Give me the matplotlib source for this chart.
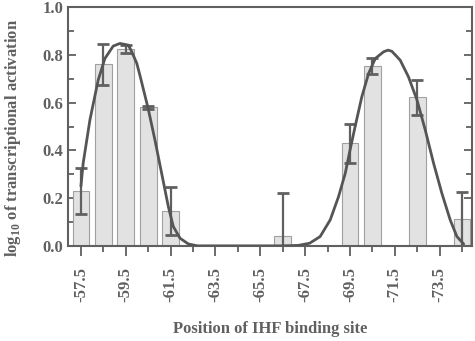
import numpy as np
import matplotlib
matplotlib.use("Agg")
import matplotlib.pyplot as plt
from matplotlib.ticker import MultipleLocator, FixedLocator

plt.rcParams['font.family'] = 'Liberation Serif'
plt.rcParams['font.weight'] = 'bold'
plt.rcParams['mathtext.fontset'] = 'custom'
plt.rcParams['mathtext.rm'] = 'Liberation Serif:bold'
plt.rcParams['axes.unicode_minus'] = False

# datos de las barras (posicion del sitio IHF)
pos = [-57.5, -58.5, -59.5, -60.5, -61.5, -66.5, -69.5, -70.5, -72.5, -74.5]
val = [0.23, 0.76, 0.825, 0.58, 0.145, 0.042, 0.43, 0.755, 0.622, 0.112]
err = [0.096, 0.085, 0.015, 0.005, 0.1, 0.18, 0.082, 0.033, 0.072, 0.115]

# curva de ajuste
curve_x = [-57.5, -57.6, -57.9, -58.27, -58.57, -58.94, -59.24, -59.61, -59.76,
           -59.99, -60.13, -60.5, -60.8, -61.1, -61.4, -61.62, -61.92, -62.29,
           -62.7, -63.5, -64.5, -65.5, -66.5, -67.2, -67.7, -68.17, -68.62,
           -68.99, -69.29, -69.5, -69.73, -70.03, -70.33, -70.63, -71.0, -71.2,
           -71.37, -71.74, -72.11, -72.49, -72.86, -73.23, -73.6, -73.97,
           -74.27, -74.57]
curve_y = [0.25, 0.346, 0.527, 0.695, 0.785, 0.837, 0.848, 0.841, 0.815,
           0.765, 0.715, 0.575, 0.444, 0.304, 0.164, 0.081, 0.032, 0.008,
           0.0, 0.0, 0.0, 0.0, 0.0, 0.002, 0.011, 0.039, 0.109,
           0.206, 0.304, 0.40, 0.5, 0.625, 0.722, 0.785, 0.813, 0.82,
           0.815, 0.778, 0.708, 0.611, 0.485, 0.346, 0.22, 0.109,
           0.039, 0.008]

xticks_major = [-57.5, -59.5, -61.5, -63.5, -65.5, -67.5, -69.5, -71.5, -73.5]
xticks_minor = [-58.5, -60.5, -62.5, -64.5, -66.5, -68.5, -70.5, -72.5, -74.5]

gray = '#606060'

fig = plt.figure(figsize=(4.75, 3.41), dpi=100)
ax = fig.add_axes([0.143, 0.279, 0.851, 0.700])

ax.bar(pos, val, width=0.75, color='#e2e2e2', edgecolor='#a0a0a0', linewidth=0.8, zorder=2)
ax.errorbar(pos, val, yerr=err, fmt='none', ecolor=gray, elinewidth=1.6,
            capsize=4.5, capthick=2, zorder=3)

ax.plot(curve_x, curve_y, color='#555555', linewidth=2, zorder=4,
        solid_joinstyle='round', solid_capstyle='round')

ax.set_xlim(-56.92, -74.95)
ax.set_ylim(0, 1.0)

ax.xaxis.set_major_locator(FixedLocator(xticks_major))
ax.xaxis.set_minor_locator(FixedLocator(xticks_minor))
ax.set_xticklabels([str(t) for t in xticks_major], rotation=90)
ax.set_yticks(np.arange(0, 1.01, 0.2))
ax.set_yticklabels(['%.1f' % t for t in np.arange(0, 1.01, 0.2)])
ax.yaxis.set_minor_locator(MultipleLocator(0.1))

ax.tick_params(axis='x', which='major', direction='out', length=7, width=1.3,
               colors=gray, labelsize=12, pad=8)
ax.tick_params(axis='x', which='minor', direction='out', length=4, width=1.3, colors=gray)
ax.tick_params(axis='y', which='major', direction='in', length=6, width=1.3,
               colors=gray, labelsize=12, right=True)
ax.tick_params(axis='y', which='minor', direction='in', length=4, width=1.3,
               colors=gray, right=True)

for s in ax.spines.values():
    s.set_color(gray)
    s.set_linewidth(1.5)

ax.set_xlabel('Position of IHF binding site', color=gray, fontsize=12,
              fontweight='bold', labelpad=14)
ax.set_ylabel('log$_{10}$ of transcriptional activation', color=gray,
              fontsize=12, fontweight='bold')
ax.yaxis.set_label_coords(-0.112, 0.45)

fig.savefig('out.png', dpi=100)
